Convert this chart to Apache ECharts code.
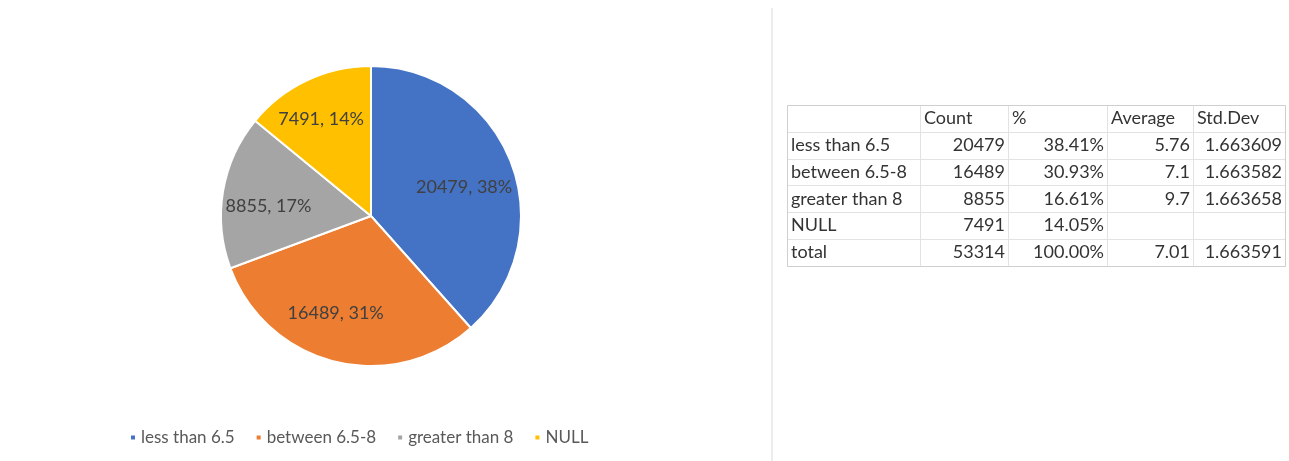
<!DOCTYPE html>
<html>
<head>
<meta charset="utf-8">
<script src="https://cdn.jsdelivr.net/npm/echarts@6/dist/echarts.min.js"></script>
<style>
  html, body { margin: 0; padding: 0; background: #ffffff; }
  #chart { width: 1289px; height: 461px; }
</style>
</head>
<body>
<div id="chart"></div>
<script>
// Groups of the rating split and their record counts
const categories = ['less than 6.5', 'between 6.5-8', 'greater than 8', 'NULL'];
const counts = [20479, 16489, 8855, 7491];
const colors = ['#4472C4', '#ED7D31', '#A5A5A5', '#FFC000'];

// Summary table beside the pie
const tableHeaders = ['', 'Count', '%', 'Average', 'Std.Dev'];
const rowLabels = ['less than 6.5', 'between 6.5-8', 'greater than 8', 'NULL', 'total'];
const rowCounts = ['20479', '16489', '8855', '7491', '53314'];
const rowPercents = ['38.41%', '30.93%', '16.61%', '14.05%', '100.00%'];
const rowAverages = ['5.76', '7.1', '9.7', '', '7.01'];
const rowStdDevs = ['1.663609', '1.663582', '1.663658', '', '1.663591'];

const FONT = 'Lato, "Open Sans", sans-serif';

// Small nudges for the slice labels, in pixels
const labelNudges = [[-5, 9], [-10, -5], [1, 8], [-5, -2]];

// Table layout
const colEdges = [787, 920, 1008, 1107, 1193, 1285];
const tableTop = 105;
const rowH = 26.8;

function buildTable() {
  const els = [];
  const nRows = rowLabels.length + 1;
  const bottom = tableTop + nRows * rowH;
  // inner grid lines
  for (let r = 1; r < nRows; r++) {
    const y = Math.round(tableTop + r * rowH) + 0.5;
    els.push({ type: 'line', silent: true,
      shape: { x1: colEdges[0], y1: y, x2: colEdges[colEdges.length - 1], y2: y },
      style: { stroke: '#e2e2e2', lineWidth: 1 } });
  }
  for (let c = 1; c < colEdges.length - 1; c++) {
    const x = colEdges[c] + 0.5;
    els.push({ type: 'line', silent: true,
      shape: { x1: x, y1: tableTop, x2: x, y2: bottom },
      style: { stroke: '#e2e2e2', lineWidth: 1 } });
  }
  // outer border
  els.push({ type: 'rect', silent: true,
    shape: { x: colEdges[0] + 0.5, y: tableTop + 0.5,
             width: colEdges[colEdges.length - 1] - colEdges[0], height: Math.round(bottom - tableTop) },
    style: { fill: 'none', stroke: '#cfcfcf', lineWidth: 1 } });

  const cellText = (txt, col, row, align) => {
    if (!txt) return;
    const y = tableTop + row * rowH + rowH / 2;
    const x = align === 'left' ? colEdges[col] + 4 : colEdges[col + 1] - 3;
    els.push({ type: 'text', silent: true, x: x, y: y,
      style: { text: txt, fill: '#333333', font: '18px ' + FONT,
               align: align, verticalAlign: 'middle' } });
  };
  tableHeaders.forEach((h, c) => cellText(h, c, 0, 'left'));
  rowLabels.forEach((lab, i) => {
    const r = i + 1;
    cellText(lab, 0, r, 'left');
    cellText(rowCounts[i], 1, r, 'right');
    cellText(rowPercents[i], 2, r, 'right');
    cellText(rowAverages[i], 3, r, 'right');
    cellText(rowStdDevs[i], 4, r, 'right');
  });
  // divider between the pie panel and the table panel
  els.push({ type: 'rect', silent: true,
    shape: { x: 771, y: 8, width: 2, height: 453 },
    style: { fill: '#ececec' } });
  return els;
}

const pieData = categories.map((name, i) => ({
  name: name, value: counts[i], itemStyle: { color: colors[i] }
}));

const chart = echarts.init(document.getElementById('chart'), null, { renderer: 'canvas' });
chart.setOption({
  animation: false,
  backgroundColor: '#ffffff',
  legend: {
    data: categories,
    left: 124,
    top: 424,
    icon: 'rect',
    itemWidth: 6,
    itemHeight: 6,
    itemGap: 20,
    textStyle: { color: '#595959', fontSize: 17, fontFamily: FONT }
  },
  series: [
    {
      type: 'pie',
      center: [371, 216],
      radius: [0, 150],
      startAngle: 90,
      clockwise: true,
      percentPrecision: 0,
      data: pieData,
      itemStyle: { borderColor: '#ffffff', borderWidth: 2 },
      label: { show: false },
      labelLine: { show: false },
      emphasis: { disabled: true }
    },
    {
      // label ring: places value labels about two thirds of the way out
      type: 'pie',
      center: [371, 216],
      radius: [54, 150],
      startAngle: 90,
      clockwise: true,
      percentPrecision: 0,
      silent: true,
      legendHoverLink: false,
      data: categories.map((name, i) => ({ name: name, value: counts[i] })),
      itemStyle: { color: 'rgba(0,0,0,0)', borderWidth: 0 },
      label: {
        show: true,
        position: 'inside',
        formatter: '{c}, {d}%',
        color: '#404040',
        fontSize: 18,
        fontFamily: FONT
      },
      labelLayout: function (params) {
        const n = labelNudges[params.dataIndex] || [0, 0];
        return { dx: n[0], dy: n[1] };
      },
      labelLine: { show: false },
      emphasis: { disabled: true }
    }
  ],
  graphic: buildTable()
});
</script>
</body>
</html>
